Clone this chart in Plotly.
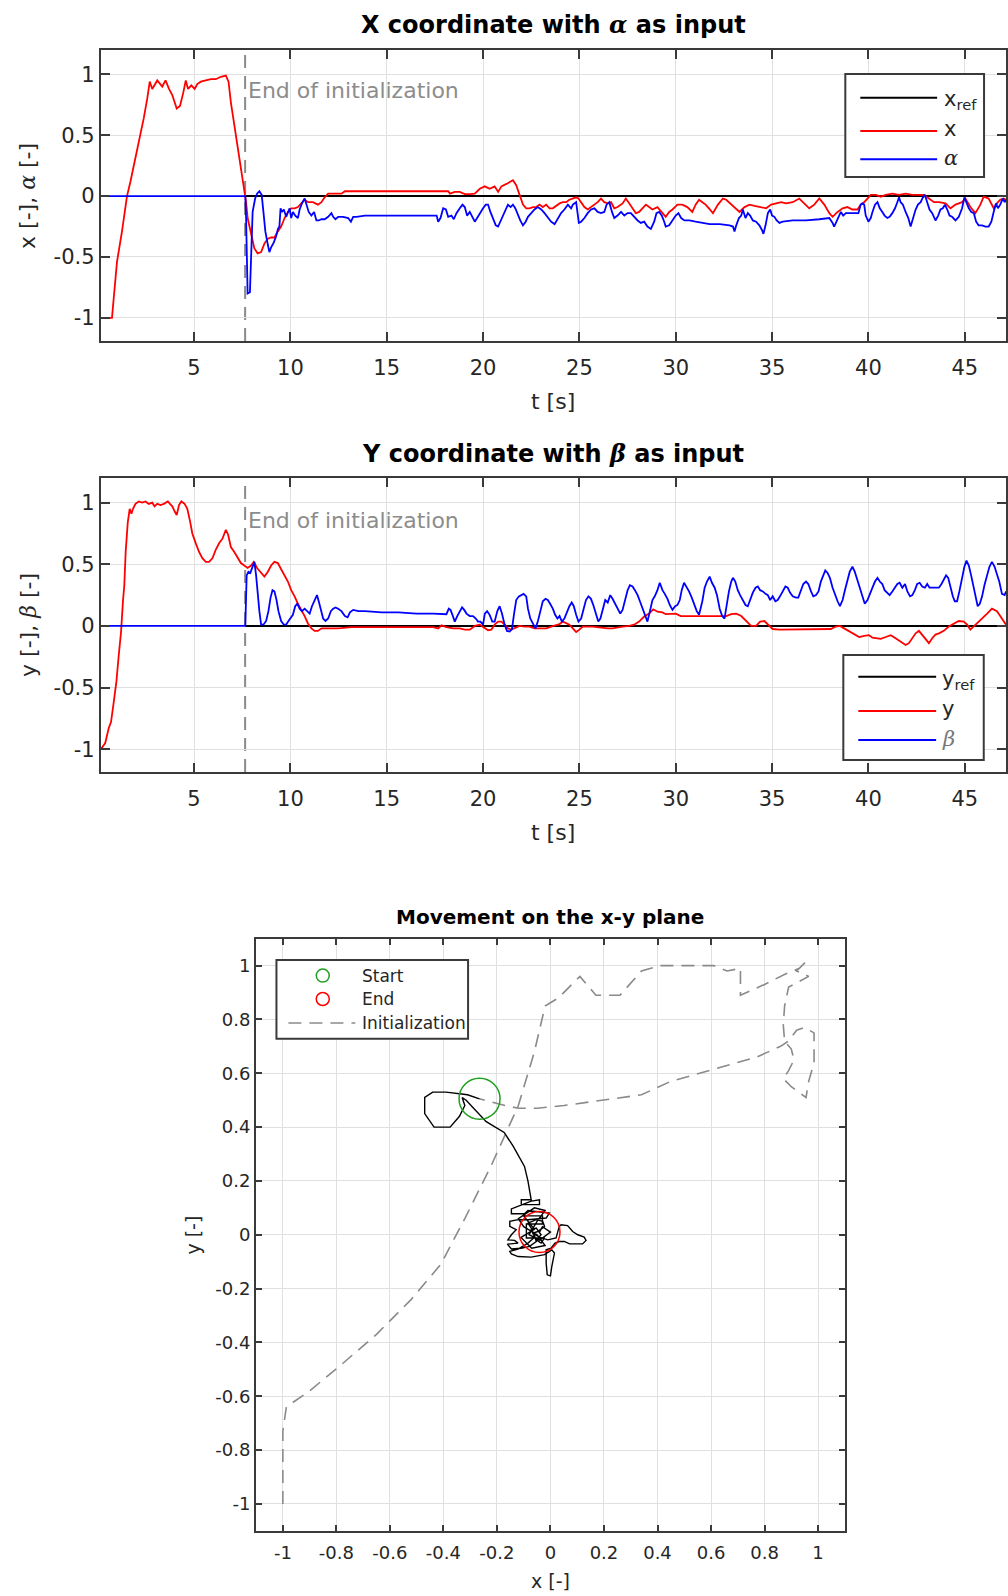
import plotly.graph_objects as go

# ---------------------------------------------------------------- data
T_INIT = 7.65          # end of the initialization phase [s]
X_REF_LEVEL = 0.0
Y_REF_LEVEL = 0.0

# x position (t [s], x [-])
x_meas = [(0.16, -1.00), (0.74, -1.00), (0.83, -0.84), (1.00, -0.54), (1.26, -0.29), (1.52, 0.00),
          (1.70, 0.12), (1.87, 0.25), (2.13, 0.42), (2.39, 0.64), (2.57, 0.80), (2.70, 0.94),
          (2.83, 0.88), (3.09, 0.95), (3.35, 0.90), (3.52, 0.95), (3.70, 0.88), (3.87, 0.83),
          (4.10, 0.72), (4.27, 0.74), (4.44, 0.85), (4.57, 0.95), (4.69, 0.88), (4.86, 0.91),
          (5.03, 0.88), (5.17, 0.92), (5.35, 0.94), (5.61, 0.95), (5.87, 0.96), (6.13, 0.96),
          (6.39, 0.98), (6.65, 0.99), (6.79, 0.94), (6.91, 0.77), (7.09, 0.58), (7.26, 0.42),
          (7.43, 0.23), (7.61, 0.06), (7.70, -0.05), (7.78, -0.18), (7.96, -0.32), (8.13, -0.43),
          (8.30, -0.47), (8.48, -0.46), (8.65, -0.39), (8.83, -0.35), (9.00, -0.34), (9.17, -0.34),
          (9.35, -0.29), (9.52, -0.25), (9.70, -0.18), (9.87, -0.13), (10.04, -0.10), (10.22, -0.10),
          (10.39, -0.09), (10.57, -0.06), (10.74, -0.03), (10.91, -0.05), (11.17, -0.05), (11.43, -0.07),
          (11.61, -0.05), (11.78, -0.01), (11.96, 0.02), (12.30, 0.02), (12.65, 0.02), (12.83, 0.04),
          (18.19, 0.04), (18.28, 0.02), (18.53, 0.035), (18.79, 0.035), (19.05, 0.016), (19.31, 0.016),
          (19.57, 0.02), (19.83, 0.06), (20.09, 0.08), (20.34, 0.06), (20.60, 0.08), (20.78, 0.035),
          (20.95, 0.08), (21.21, 0.10), (21.47, 0.12), (21.55, 0.13), (21.72, 0.09), (21.90, 0.01),
          (22.07, -0.07), (22.24, -0.10), (22.41, -0.10), (22.59, -0.09), (22.76, -0.09), (22.93, -0.07),
          (23.10, -0.09), (23.28, -0.07), (23.45, -0.10), (23.62, -0.10), (23.79, -0.08), (23.97, -0.06),
          (24.14, -0.05), (24.31, -0.05), (24.48, -0.03), (24.66, -0.02), (24.83, -0.01), (24.95, -0.02),
          (25.09, -0.05), (25.26, -0.09), (25.43, -0.11), (25.60, -0.09), (25.78, -0.07), (25.95, -0.05),
          (26.12, -0.02), (26.29, -0.05), (26.47, -0.06), (26.64, -0.05), (26.81, -0.10), (26.98, -0.09),
          (27.24, -0.06), (27.41, -0.02), (27.59, -0.06), (27.76, -0.10), (27.93, -0.14), (28.10, -0.13),
          (28.28, -0.10), (28.45, -0.07), (28.62, -0.09), (28.79, -0.11), (29.05, -0.09), (29.31, -0.14),
          (29.48, -0.17), (29.66, -0.13), (29.83, -0.11), (30.09, -0.07), (30.34, -0.07), (30.60, -0.09),
          (30.86, -0.13), (31.03, -0.07), (31.21, -0.03), (31.38, -0.05), (31.55, -0.07), (31.72, -0.10),
          (31.93, -0.14), (32.19, -0.07), (32.45, -0.02), (32.62, -0.03), (32.88, -0.07), (33.14, -0.11),
          (33.31, -0.13), (33.57, -0.09), (33.83, -0.07), (34.09, -0.08), (34.43, -0.09), (34.69, -0.10),
          (34.95, -0.07), (35.21, -0.06), (35.47, -0.05), (35.72, -0.06), (36.07, -0.05), (36.41, -0.02),
          (36.67, -0.06), (36.93, -0.10), (37.19, -0.07), (37.45, -0.02), (37.71, -0.07), (37.97, -0.14),
          (38.14, -0.17), (38.40, -0.13), (38.66, -0.10), (38.91, -0.09), (39.17, -0.11), (39.43, -0.11),
          (39.60, -0.07), (39.78, -0.05), (39.95, -0.02), (40.12, 0.01), (40.38, 0.01), (40.64, -0.005),
          (40.90, 0.01), (41.24, 0.02), (41.59, 0.01), (41.93, 0.02), (42.28, 0.01), (42.62, 0.01),
          (42.88, 0.01), (43.14, -0.02), (43.40, -0.05), (43.66, -0.05), (44.00, -0.06), (44.26, -0.10),
          (44.52, -0.07), (44.86, -0.05), (45.03, -0.02), (45.29, -0.09), (45.55, -0.14), (45.81, -0.07),
          (45.98, -0.005), (46.24, -0.02), (46.50, -0.10), (46.67, -0.06), (46.84, -0.03), (47.02, -0.02),
          (47.14, -0.03)]

# alpha input (t [s], alpha [-])
alpha_in = [(0.16, 0.0), (7.66, 0.0), (7.70, -0.18), (7.78, -0.80), (7.90, -0.79), (7.96, -0.40),
            (8.04, -0.13), (8.17, -0.02), (8.27, 0.02), (8.39, 0.04), (8.51, 0.01), (8.60, -0.13),
            (8.70, -0.29), (8.83, -0.40), (8.91, -0.46), (9.00, -0.42), (9.14, -0.38), (9.26, -0.33),
            (9.35, -0.27), (9.43, -0.25), (9.49, -0.10), (9.56, -0.13), (9.66, -0.11), (9.78, -0.17),
            (9.87, -0.13), (9.96, -0.10), (10.04, -0.18), (10.13, -0.13), (10.25, -0.16), (10.39, -0.18),
            (10.48, -0.11), (10.60, -0.06), (10.74, -0.02), (10.83, -0.07), (10.95, -0.13), (11.09, -0.16),
            (11.23, -0.13), (11.35, -0.20), (11.47, -0.20), (11.61, -0.19), (11.78, -0.19), (11.96, -0.17),
            (12.13, -0.14), (12.22, -0.17), (12.34, -0.19), (12.48, -0.17), (12.74, -0.17), (13.00, -0.18),
            (13.14, -0.21), (13.26, -0.17), (13.43, -0.17), (13.87, -0.16), (17.59, -0.16), (17.67, -0.21),
            (17.79, -0.18), (17.93, -0.10), (18.07, -0.11), (18.19, -0.17), (18.36, -0.16), (18.48, -0.19),
            (18.62, -0.14), (18.79, -0.10), (18.93, -0.07), (19.05, -0.09), (19.17, -0.16), (19.31, -0.13),
            (19.45, -0.18), (19.57, -0.21), (19.69, -0.18), (19.83, -0.14), (20.00, -0.10), (20.14, -0.07),
            (20.26, -0.07), (20.38, -0.13), (20.52, -0.18), (20.66, -0.24), (20.78, -0.25), (20.90, -0.21),
            (21.03, -0.16), (21.17, -0.11), (21.29, -0.07), (21.43, -0.09), (21.55, -0.07), (21.67, -0.10),
            (21.81, -0.16), (21.93, -0.20), (22.07, -0.24), (22.21, -0.21), (22.33, -0.17), (22.50, -0.14),
            (22.67, -0.11), (22.84, -0.09), (23.02, -0.11), (23.19, -0.14), (23.36, -0.18), (23.53, -0.21),
            (23.71, -0.23), (23.88, -0.18), (24.05, -0.14), (24.22, -0.11), (24.40, -0.07), (24.57, -0.10),
            (24.66, -0.07), (24.83, -0.05), (24.97, -0.22), (25.09, -0.21), (25.26, -0.18), (25.43, -0.14),
            (25.60, -0.11), (25.78, -0.10), (25.95, -0.13), (26.12, -0.14), (26.29, -0.13), (26.41, -0.07),
            (26.55, -0.05), (26.69, -0.13), (26.81, -0.18), (26.98, -0.16), (27.16, -0.13), (27.33, -0.16),
            (27.50, -0.14), (27.67, -0.14), (27.84, -0.17), (28.02, -0.20), (28.19, -0.22), (28.36, -0.21),
            (28.53, -0.25), (28.71, -0.27), (28.88, -0.21), (29.00, -0.14), (29.14, -0.13), (29.28, -0.16),
            (29.40, -0.21), (29.48, -0.25), (29.66, -0.24), (29.83, -0.20), (30.00, -0.16), (30.14, -0.14),
            (30.28, -0.18), (30.45, -0.20), (30.71, -0.20), (31.03, -0.21), (31.76, -0.23), (32.28, -0.23),
            (32.79, -0.24), (32.97, -0.25), (33.05, -0.29), (33.14, -0.24), (33.28, -0.18), (33.40, -0.16),
            (33.48, -0.11), (33.62, -0.18), (33.74, -0.14), (33.86, -0.16), (34.00, -0.20), (34.17, -0.21),
            (34.34, -0.24), (34.48, -0.28), (34.55, -0.31), (34.66, -0.24), (34.78, -0.14), (34.90, -0.11),
            (35.00, -0.16), (35.12, -0.17), (35.24, -0.20), (35.38, -0.22), (35.55, -0.21), (36.07, -0.20),
            (36.76, -0.20), (37.45, -0.19), (37.97, -0.18), (38.14, -0.22), (38.22, -0.25), (38.34, -0.21),
            (38.48, -0.16), (38.57, -0.13), (38.69, -0.16), (38.83, -0.14), (39.17, -0.14), (39.48, -0.14),
            (39.60, -0.07), (39.69, -0.06), (39.78, -0.07), (39.86, -0.16), (40.00, -0.21), (40.12, -0.18),
            (40.21, -0.13), (40.34, -0.07), (40.47, -0.05), (40.59, -0.10), (40.72, -0.13), (40.84, -0.16),
            (40.98, -0.18), (41.10, -0.17), (41.24, -0.14), (41.38, -0.10), (41.50, -0.05), (41.59, -0.01),
            (41.67, -0.05), (41.79, -0.07), (41.93, -0.13), (42.07, -0.18), (42.19, -0.25), (42.31, -0.18),
            (42.45, -0.11), (42.57, -0.07), (42.71, -0.05), (42.83, -0.01), (42.93, 0.01), (43.05, -0.05),
            (43.17, -0.11), (43.31, -0.14), (43.48, -0.20), (43.62, -0.16), (43.74, -0.11), (43.86, -0.10),
            (43.97, -0.07), (44.09, -0.11), (44.21, -0.16), (44.34, -0.17), (44.52, -0.20), (44.69, -0.17),
            (44.86, -0.10), (44.98, -0.01), (45.07, -0.05), (45.21, -0.10), (45.34, -0.13), (45.47, -0.14),
            (45.59, -0.21), (45.72, -0.24), (45.90, -0.24), (46.07, -0.25), (46.24, -0.25), (46.38, -0.21),
            (46.50, -0.13), (46.62, -0.06), (46.72, -0.10), (46.84, -0.07), (46.97, -0.02), (47.07, -0.05),
            (47.14, -0.03)]

# y position (t [s], y [-])
y_meas = [(0.16, -1.00), (0.39, -0.95), (0.57, -0.83), (0.69, -0.78), (0.83, -0.62), (0.97, -0.45),
          (1.09, -0.24), (1.21, -0.05), (1.31, 0.20), (1.38, 0.33), (1.45, 0.60), (1.56, 0.84),
          (1.66, 0.95), (1.75, 0.91), (1.83, 0.95), (1.96, 0.99), (2.13, 1.01), (2.30, 1.00),
          (2.48, 1.01), (2.65, 0.99), (2.83, 1.00), (2.95, 0.97), (3.09, 0.99), (3.26, 0.98),
          (3.43, 0.99), (3.64, 1.01), (3.75, 0.99), (3.87, 0.97), (3.99, 0.93), (4.10, 0.90),
          (4.22, 0.98), (4.34, 1.01), (4.51, 0.99), (4.65, 0.95), (4.79, 0.85), (4.91, 0.75),
          (5.09, 0.67), (5.26, 0.60), (5.43, 0.55), (5.61, 0.52), (5.78, 0.52), (5.96, 0.55),
          (6.13, 0.62), (6.30, 0.67), (6.48, 0.71), (6.65, 0.78), (6.77, 0.74), (6.91, 0.64),
          (7.09, 0.60), (7.26, 0.56), (7.43, 0.51), (7.61, 0.49), (7.78, 0.47), (7.96, 0.49),
          (8.10, 0.52), (8.27, 0.47), (8.48, 0.43), (8.65, 0.40), (8.83, 0.44), (9.00, 0.49),
          (9.17, 0.52), (9.35, 0.51), (9.52, 0.46), (9.70, 0.41), (9.87, 0.36), (10.04, 0.29),
          (10.22, 0.24), (10.39, 0.18), (10.57, 0.13), (10.74, 0.08), (10.91, 0.02), (11.09, -0.02),
          (11.26, -0.04), (11.43, -0.04), (11.61, -0.02), (11.78, -0.02), (12.48, -0.02), (13.17, -0.01),
          (16.55, -0.01), (17.41, -0.01), (17.67, -0.02), (17.84, 0.005), (18.10, -0.01), (18.45, -0.02),
          (18.79, -0.02), (19.05, -0.03), (19.31, -0.03), (19.57, 0.00), (19.83, 0.01), (20.09, -0.02),
          (20.26, -0.035), (20.43, -0.03), (20.60, 0.01), (20.78, 0.035), (20.95, 0.035), (21.12, 0.01),
          (21.29, -0.02), (21.47, -0.03), (21.64, -0.02), (21.90, 0.00), (22.16, -0.005), (22.41, -0.005),
          (22.67, -0.02), (22.93, -0.02), (23.28, -0.02), (23.53, -0.005), (23.79, 0.01), (23.97, 0.015),
          (24.14, 0.035), (24.31, 0.02), (24.48, 0.01), (24.66, -0.02), (24.83, -0.05), (25.00, -0.03),
          (25.17, -0.005), (25.69, -0.005), (25.95, -0.01), (26.21, -0.02), (26.47, -0.02), (26.72, -0.02),
          (26.98, -0.01), (27.24, -0.005), (27.59, 0.00), (27.84, 0.01), (28.10, 0.035), (28.36, 0.076),
          (28.62, 0.10), (28.83, 0.135), (29.05, 0.115), (29.31, 0.11), (29.48, 0.095), (29.74, 0.10),
          (30.00, 0.10), (30.26, 0.08), (30.52, 0.08), (30.86, 0.08), (31.21, 0.08), (32.10, 0.08),
          (32.62, 0.08), (32.88, 0.095), (33.14, 0.10), (33.40, 0.08), (33.66, 0.035), (33.91, 0.00),
          (34.17, 0.00), (34.38, 0.035), (34.60, 0.04), (34.78, 0.01), (35.03, -0.025), (35.38, -0.03),
          (38.05, -0.025), (38.31, -0.005), (38.52, 0.00), (38.74, -0.02), (39.00, -0.045), (39.26, -0.07),
          (39.52, -0.09), (39.78, -0.08), (40.03, -0.075), (40.21, -0.095), (40.38, -0.10), (40.64, -0.105),
          (40.90, -0.09), (41.16, -0.075), (41.41, -0.10), (41.67, -0.13), (41.93, -0.155), (42.10, -0.14),
          (42.28, -0.10), (42.45, -0.06), (42.62, -0.04), (42.79, -0.07), (42.97, -0.11), (43.14, -0.14),
          (43.31, -0.10), (43.48, -0.07), (43.66, -0.06), (43.91, -0.04), (44.17, -0.005), (44.43, 0.02),
          (44.69, 0.04), (44.95, 0.035), (45.12, 0.01), (45.29, -0.03), (45.43, -0.01), (45.62, 0.02),
          (45.90, 0.06), (46.16, 0.10), (46.41, 0.14), (46.67, 0.12), (46.84, 0.08), (47.02, 0.04),
          (47.14, 0.01)]

# beta input (t [s], beta [-])
beta_in = [(0.16, 0.0), (7.66, 0.0), (7.73, 0.41), (7.82, 0.44), (7.92, 0.43), (8.04, 0.48), (8.13, 0.52),
           (8.22, 0.41), (8.30, 0.25), (8.39, 0.12), (8.48, 0.01), (8.60, 0.01), (8.74, 0.04), (8.86, 0.12),
           (8.97, 0.23), (9.07, 0.29), (9.17, 0.28), (9.28, 0.21), (9.38, 0.12), (9.52, 0.04), (9.66, 0.01),
           (9.78, 0.01), (9.90, 0.04), (10.01, 0.06), (10.13, 0.09), (10.25, 0.16), (10.36, 0.18),
           (10.48, 0.14), (10.60, 0.12), (10.74, 0.14), (10.88, 0.12), (11.00, 0.10), (11.12, 0.16),
           (11.26, 0.21), (11.38, 0.25), (11.47, 0.20), (11.57, 0.13), (11.70, 0.06), (11.82, 0.04),
           (11.96, 0.06), (12.10, 0.12), (12.22, 0.14), (12.34, 0.15), (12.48, 0.14), (12.65, 0.12),
           (12.83, 0.08), (12.97, 0.07), (13.09, 0.11), (13.26, 0.13), (13.52, 0.12), (13.87, 0.12),
           (14.74, 0.11), (15.61, 0.11), (16.55, 0.10), (17.41, 0.10), (18.10, 0.095), (18.22, 0.14),
           (18.31, 0.13), (18.41, 0.09), (18.53, 0.035), (18.66, 0.08), (18.79, 0.12), (18.91, 0.15),
           (19.02, 0.13), (19.14, 0.10), (19.31, 0.08), (19.48, 0.08), (19.62, 0.06), (19.74, 0.035),
           (19.86, 0.035), (20.00, 0.01), (20.09, 0.10), (20.21, 0.12), (20.34, 0.09), (20.48, 0.035),
           (20.60, 0.035), (20.74, 0.12), (20.86, 0.16), (20.98, 0.10), (21.12, 0.01), (21.24, -0.04),
           (21.38, -0.045), (21.50, -0.025), (21.60, 0.09), (21.72, 0.21), (21.86, 0.24), (21.98, 0.25),
           (22.10, 0.26), (22.24, 0.24), (22.33, 0.14), (22.45, 0.06), (22.59, 0.02), (22.72, -0.02),
           (22.84, 0.035), (22.97, 0.13), (23.10, 0.20), (23.24, 0.22), (23.36, 0.21), (23.48, 0.18),
           (23.62, 0.14), (23.74, 0.09), (23.86, 0.06), (23.97, 0.08), (24.09, 0.035), (24.22, 0.06),
           (24.36, 0.12), (24.48, 0.16), (24.60, 0.19), (24.71, 0.16), (24.83, 0.09), (24.95, 0.035),
           (25.09, 0.06), (25.21, 0.13), (25.34, 0.21), (25.47, 0.24), (25.60, 0.22), (25.72, 0.17),
           (25.86, 0.09), (25.98, 0.035), (26.09, 0.06), (26.21, 0.14), (26.34, 0.21), (26.47, 0.19),
           (26.60, 0.25), (26.72, 0.22), (26.84, 0.18), (26.98, 0.14), (27.12, 0.10), (27.24, 0.13),
           (27.36, 0.21), (27.50, 0.29), (27.62, 0.33), (27.76, 0.32), (27.88, 0.29), (28.02, 0.25),
           (28.14, 0.20), (28.28, 0.14), (28.40, 0.09), (28.53, 0.035), (28.66, 0.12), (28.79, 0.21),
           (28.91, 0.24), (29.05, 0.29), (29.17, 0.35), (29.31, 0.29), (29.43, 0.26), (29.57, 0.22),
           (29.69, 0.17), (29.83, 0.13), (29.97, 0.16), (30.09, 0.17), (30.21, 0.21), (30.31, 0.29),
           (30.43, 0.35), (30.55, 0.32), (30.69, 0.28), (30.83, 0.23), (30.95, 0.17), (31.09, 0.12),
           (31.21, 0.09), (31.38, 0.20), (31.50, 0.31), (31.62, 0.36), (31.76, 0.40), (31.88, 0.35),
           (32.02, 0.31), (32.14, 0.25), (32.28, 0.14), (32.41, 0.08), (32.53, 0.06), (32.62, 0.16),
           (32.76, 0.28), (32.88, 0.36), (32.97, 0.39), (33.09, 0.36), (33.22, 0.29), (33.34, 0.25),
           (33.48, 0.21), (33.62, 0.17), (33.74, 0.16), (33.86, 0.21), (34.00, 0.27), (34.14, 0.31),
           (34.26, 0.32), (34.38, 0.29), (34.52, 0.28), (34.66, 0.26), (34.78, 0.25), (34.90, 0.21),
           (35.03, 0.24), (35.17, 0.20), (35.29, 0.21), (35.41, 0.24), (35.55, 0.28), (35.69, 0.32),
           (35.81, 0.31), (35.93, 0.27), (36.07, 0.24), (36.24, 0.23), (36.36, 0.23), (36.50, 0.29),
           (36.62, 0.34), (36.76, 0.36), (36.88, 0.34), (37.02, 0.28), (37.14, 0.24), (37.28, 0.25),
           (37.41, 0.28), (37.53, 0.36), (37.66, 0.41), (37.76, 0.45), (37.88, 0.43), (38.00, 0.39),
           (38.14, 0.31), (38.26, 0.25), (38.40, 0.20), (38.52, 0.16), (38.66, 0.21), (38.78, 0.29),
           (38.91, 0.37), (39.03, 0.44), (39.17, 0.48), (39.29, 0.44), (39.43, 0.37), (39.55, 0.31),
           (39.69, 0.23), (39.81, 0.18), (39.95, 0.21), (40.07, 0.25), (40.21, 0.31), (40.34, 0.36),
           (40.47, 0.39), (40.59, 0.36), (40.72, 0.34), (40.84, 0.29), (40.98, 0.27), (41.10, 0.25),
           (41.24, 0.28), (41.38, 0.31), (41.50, 0.34), (41.62, 0.35), (41.76, 0.31), (41.90, 0.34),
           (42.02, 0.28), (42.16, 0.24), (42.28, 0.25), (42.41, 0.29), (42.53, 0.34), (42.66, 0.35),
           (42.79, 0.32), (42.93, 0.31), (43.05, 0.34), (43.17, 0.31), (43.31, 0.31), (43.48, 0.31),
           (43.66, 0.31), (43.79, 0.34), (43.91, 0.37), (44.03, 0.41), (44.14, 0.39), (44.26, 0.31),
           (44.38, 0.24), (44.48, 0.20), (44.60, 0.20), (44.72, 0.28), (44.86, 0.39), (44.98, 0.48),
           (45.09, 0.53), (45.21, 0.49), (45.33, 0.41), (45.43, 0.34), (45.55, 0.23), (45.67, 0.16),
           (45.78, 0.18), (45.90, 0.24), (46.02, 0.33), (46.16, 0.41), (46.28, 0.48), (46.41, 0.52),
           (46.55, 0.48), (46.67, 0.42), (46.79, 0.36), (46.93, 0.26), (47.07, 0.25), (47.14, 0.28)]

# path on the x-y plane during initialization (x, y)
init_path = [(-1.00, -1.00), (-1.00, -0.73), (-0.987, -0.64), (-0.90, -0.58), (-0.79, -0.49), (-0.65, -0.37),
             (-0.52, -0.24), (-0.41, -0.11), (-0.32, 0.06), (-0.22, 0.26), (-0.12, 0.48), (-0.06, 0.68),
             (-0.02, 0.85), (0.03, 0.88), (0.11, 0.96), (0.17, 0.89), (0.26, 0.89), (0.34, 0.98),
             (0.41, 1.00), (0.61, 1.00), (0.66, 0.98), (0.71, 0.99), (0.71, 0.89), (0.80, 0.93),
             (0.88, 0.97), (0.93, 0.99), (0.96, 1.02), (0.92, 0.98), (0.965, 0.96), (0.89, 0.92),
             (0.875, 0.85), (0.87, 0.78), (0.875, 0.72), (0.90, 0.69), (0.91, 0.65), (0.89, 0.61),
             (0.87, 0.58), (0.90, 0.55), (0.955, 0.51), (0.965, 0.57), (0.985, 0.64), (0.985, 0.75),
             (0.95, 0.77), (0.92, 0.76), (0.89, 0.72), (0.86, 0.70), (0.77, 0.66), (0.66, 0.63),
             (0.56, 0.60), (0.45, 0.57), (0.34, 0.52), (0.19, 0.50), (0.05, 0.48), (-0.05, 0.47),
             (-0.12, 0.47), (-0.17, 0.48), (-0.265, 0.505)]

# path on the x-y plane after initialization (x, y)
track_path = [(-0.265, 0.505), (-0.31, 0.52), (-0.39, 0.53), (-0.44, 0.53), (-0.47, 0.51), (-0.47, 0.45),
              (-0.435, 0.40), (-0.375, 0.40), (-0.34, 0.44), (-0.32, 0.48), (-0.33, 0.51), (-0.315, 0.50),
              (-0.24, 0.42), (-0.173, 0.38), (-0.14, 0.33), (-0.109, 0.279), (-0.097, 0.254), (-0.084, 0.199),
              (-0.078, 0.161), (-0.072, 0.130), (-0.109, 0.130), (-0.109, 0.112), (-0.041, 0.112),
              (-0.041, 0.130), (-0.072, 0.125), (-0.121, 0.106), (-0.146, 0.096), (-0.146, 0.078),
              (-0.097, 0.078), (-0.084, 0.090), (-0.004, 0.081), (-0.016, 0.062), (-0.084, 0.056),
              (-0.121, 0.056), (-0.152, 0.050), (-0.152, 0.031), (-0.128, 0.019), (-0.146, 0.000),
              (-0.159, -0.019), (-0.134, -0.021), (-0.121, -0.031), (-0.161, -0.035), (-0.146, -0.053),
              (-0.109, -0.050), (-0.078, -0.043), (-0.053, -0.025), (-0.059, -0.006), (-0.072, 0.025),
              (-0.084, 0.043), (-0.053, 0.056), (-0.029, 0.050), (-0.022, 0.031), (-0.047, 0.012),
              (-0.066, 0.006), (-0.041, -0.009), (-0.010, -0.019), (0.021, -0.012), (0.033, 0.031),
              (0.040, 0.037), (0.064, 0.034), (0.083, 0.012), (0.102, 0.000), (0.126, -0.009),
              (0.133, -0.021), (0.120, -0.034), (0.071, -0.034), (0.052, -0.025), (0.033, -0.025),
              (0.017, -0.031), (0.002, -0.050), (-0.016, -0.056), (-0.016, -0.106), (-0.012, -0.149),
              (0.000, -0.153), (0.005, -0.118), (0.015, -0.068), (0.005, -0.056), (-0.022, -0.074),
              (-0.072, -0.083), (-0.121, -0.081), (-0.146, -0.071), (-0.152, -0.062), (-0.121, -0.053),
              (-0.084, -0.031), (-0.059, -0.009), (-0.072, 0.019), (-0.053, 0.025), (-0.035, 0.000),
              (-0.053, -0.019), (-0.035, -0.031), (-0.022, -0.012), (-0.090, -0.012), (-0.090, 0.040),
              (-0.030, 0.040), (-0.030, 0.070), (-0.100, 0.070), (-0.060, 0.020), (-0.110, -0.010),
              (-0.070, -0.050), (-0.020, -0.040), (-0.050, 0.000), (-0.100, 0.030), (-0.120, 0.060),
              (-0.060, 0.100), (-0.020, 0.090), (-0.050, 0.050), (-0.080, 0.000), (-0.040, -0.020),
              (0.000, 0.010), (-0.030, 0.030), (-0.041, 0.010)]

T_TICKS = [5, 10, 15, 20, 25, 30, 35, 40, 45]
V_TICKS = [-1, -0.5, 0, 0.5, 1]
V_TICK_TEXT = ["-1", "-0.5", "0", "0.5", "1"]
XY_TICKS = [-1, -0.8, -0.6, -0.4, -0.2, 0, 0.2, 0.4, 0.6, 0.8, 1]
XY_TICK_TEXT = ["-1", "-0.8", "-0.6", "-0.4", "-0.2", "0", "0.2", "0.4", "0.6", "0.8", "1"]

# ---------------------------------------------------------------- helpers
W, H = 1008, 1596
FONT = "DejaVu Sans"
AX_COL = "#3a3a3a"
TXT_COL = "#262626"
GRID_COL = "#e0e0e0"
RED, BLUE, BLACK = "#ff0000", "#0000ff", "#000000"
GREEN = "#1f9e1f"
INIT_GRAY = "#8a8a8a"


def px(X):
    return X / W


def py(Y):
    return 1 - Y / H


def split(pairs):
    a, b = zip(*pairs)
    return list(a), list(b)


t_x, x_v = split(x_meas)
t_a, a_v = split(alpha_in)
t_y, y_v = split(y_meas)
t_b, b_v = split(beta_in)
ix, iy = split(init_path)
kx, ky = split(track_path)
T_MIN, T_MAX = t_x[0], t_x[-1]

GREEK = "<span style='font-family:DejaVu Serif'><i>{}</i></span>"

fig = go.Figure()

# ---------------------------------------------------------------- time plots
for xa, ya, ref_level, meas_t, meas_v, in_t, in_v in [
        ("x", "y", X_REF_LEVEL, t_x, x_v, t_a, a_v),
        ("x2", "y2", Y_REF_LEVEL, t_y, y_v, t_b, b_v)]:
    fig.add_trace(go.Scatter(x=[T_INIT, T_MAX], y=[ref_level, ref_level], mode="lines",
                             line=dict(color=BLACK, width=2), xaxis=xa, yaxis=ya, showlegend=False))
    fig.add_trace(go.Scatter(x=meas_t, y=meas_v, mode="lines",
                             line=dict(color=RED, width=1.8), xaxis=xa, yaxis=ya, showlegend=False))
    fig.add_trace(go.Scatter(x=in_t, y=in_v, mode="lines",
                             line=dict(color=BLUE, width=1.8), xaxis=xa, yaxis=ya, showlegend=False))

# ---------------------------------------------------------------- x-y plot
fig.add_trace(go.Scatter(x=ix, y=iy, mode="lines", line=dict(color=INIT_GRAY, width=1.6, dash="13px,8px"),
                         xaxis="x3", yaxis="y3", showlegend=False))
fig.add_trace(go.Scatter(x=kx, y=ky, mode="lines", line=dict(color=BLACK, width=1.4),
                         xaxis="x3", yaxis="y3", showlegend=False))
fig.add_trace(go.Scatter(x=[kx[0]], y=[ky[0]], mode="markers",
                         marker=dict(symbol="circle-open", size=41, color=GREEN, line=dict(width=1.5)),
                         xaxis="x3", yaxis="y3", showlegend=False))
fig.add_trace(go.Scatter(x=[kx[-1]], y=[ky[-1]], mode="markers",
                         marker=dict(symbol="circle-open", size=41, color=RED, line=dict(width=1.5)),
                         xaxis="x3", yaxis="y3", showlegend=False))


def common_axis(size, ticklen):
    return dict(showline=True, linecolor=AX_COL, linewidth=2, mirror="allticks",
                ticks="inside", ticklen=ticklen, tickwidth=1.5, tickcolor=AX_COL,
                showgrid=True, gridcolor=GRID_COL, gridwidth=1.3, zeroline=False,
                tickfont=dict(family=FONT, size=size, color=TXT_COL))


t_axis = dict(common_axis(21, 9), range=[T_MIN, T_MAX], tickvals=T_TICKS,
              ticktext=[str(v) for v in T_TICKS], domain=[px(101), 1.0], ticklabelstandoff=7)
v_axis = dict(common_axis(21, 9), tickvals=V_TICKS, ticktext=V_TICK_TEXT)
xy_axis = dict(common_axis(18, 6), range=[-1.1, 1.1], tickvals=XY_TICKS, ticktext=XY_TICK_TEXT)

fig.update_layout(
    xaxis=dict(t_axis, anchor="y"),
    yaxis=dict(v_axis, anchor="x", range=[-1.19, 1.2], domain=[py(341), py(50)]),
    xaxis2=dict(t_axis, anchor="y2"),
    yaxis2=dict(v_axis, anchor="x2", range=[-1.185, 1.2], domain=[py(772), py(478)]),
    xaxis3=dict(xy_axis, anchor="y3", domain=[px(256.6), px(846.5)], ticklabelstandoff=5),
    yaxis3=dict(xy_axis, anchor="x3", domain=[py(1530.8), py(938.7)]),
)

shapes = []
annotations = []

# end-of-initialization markers
for xa, yd, ytxt in [("x", "y domain", 90.6), ("x2", "y2 domain", 520)]:
    shapes.append(dict(type="line", xref=xa, yref=yd, x0=T_INIT, x1=T_INIT, y0=0, y1=1,
                       line=dict(color=INIT_GRAY, width=2, dash="13px,8px"), layer="below"))
    annotations.append(dict(text="End of initialization", xref=xa, yref="paper", x=T_INIT, y=py(ytxt),
                            xanchor="left", yanchor="middle", xshift=1, showarrow=False,
                            font=dict(family=FONT, size=22, color="#8c8c8c")))


def label(text, X, Y, size, bold=False, angle=0, color=TXT_COL, xanchor="center"):
    annotations.append(dict(text=f"<b>{text}</b>" if bold else text, xref="paper", yref="paper",
                            x=px(X), y=py(Y), xanchor=xanchor, yanchor="middle", showarrow=False,
                            textangle=angle, font=dict(family=FONT, size=size, color=color)))


# titles and axis labels
label("X coordinate with " + GREEK.format("α") + " as input", 554.5, 24.5, 24, bold=True, color="black")
label("Y coordinate with " + GREEK.format("β") + " as input", 554.5, 453.5, 24, bold=True, color="black")
label("Movement on the x-y plane", 551.5, 916.5, 20, bold=True, color="black")
label("t [s]", 554.5, 402, 22)
label("t [s]", 554.5, 833, 22)
label("x [-], " + GREEK.format("α") + " [-]", 28, 196, 22, angle=-90)
label("y [-], " + GREEK.format("β") + " [-]", 28, 625, 22, angle=-90)
label("x [-]", 552, 1581, 19)
label("y [-]", 193, 1235, 19, angle=-90)


def legend_box(X0, Y0, X1, Y1):
    shapes.append(dict(type="rect", xref="paper", yref="paper", x0=px(X0), x1=px(X1), y0=py(Y1), y1=py(Y0),
                       fillcolor="white", line=dict(color=AX_COL, width=2), layer="above"))


def legend_line(X0, X1, Y, color, width=2, dash="solid"):
    shapes.append(dict(type="line", xref="paper", yref="paper", x0=px(X0), x1=px(X1), y0=py(Y), y1=py(Y),
                       line=dict(color=color, width=width, dash=dash), layer="above"))


def legend_circle(X, Y, color):
    shapes.append(dict(type="circle", xref="paper", yref="paper", xsizemode="pixel", ysizemode="pixel",
                       xanchor=px(X), yanchor=py(Y), x0=-6.5, x1=6.5, y0=-6.5, y1=6.5,
                       line=dict(color=color, width=1.5), layer="above"))


# legend of the x plot
legend_box(847, 74, 986, 177)
for Y, col in [(97.7, BLACK), (131, RED), (159.3, BLUE)]:
    legend_line(862, 939, Y, col)
label("x<sub>ref</sub>", 944, 100, 21, xanchor="left")
label("x", 944, 129, 21, xanchor="left")
label(GREEK.format("α"), 944, 158, 21, xanchor="left")

# legend of the y plot
legend_box(845, 655, 985.7, 760)
for Y, col in [(676.7, BLACK), (711, RED), (740, BLUE)]:
    legend_line(860, 938, Y, col)
label("y<sub>ref</sub>", 942, 680, 21, xanchor="left")
label("y", 942, 709, 21, xanchor="left")
label(GREEK.format("β"), 942, 739, 21, xanchor="left", color="#777777")

# legend of the x-y plot
legend_box(277, 960, 469, 1038.7)
legend_circle(323.4, 975.6, GREEN)
legend_circle(323.4, 999, RED)
legend_line(289, 356, 1023, INIT_GRAY, width=1.6, dash="13px,8px")
label("Start", 361, 975.6, 17, xanchor="left")
label("End", 361, 999, 17, xanchor="left")
label("Initialization", 361, 1023, 17, xanchor="left")

fig.update_layout(
    width=W, height=H, margin=dict(l=0, r=0, t=0, b=0, pad=0),
    paper_bgcolor="white", plot_bgcolor="white", showlegend=False,
    shapes=shapes, annotations=annotations,
    font=dict(family=FONT, color=TXT_COL),
)

fig.write_html("out.html", config={"displayModeBar": False})
